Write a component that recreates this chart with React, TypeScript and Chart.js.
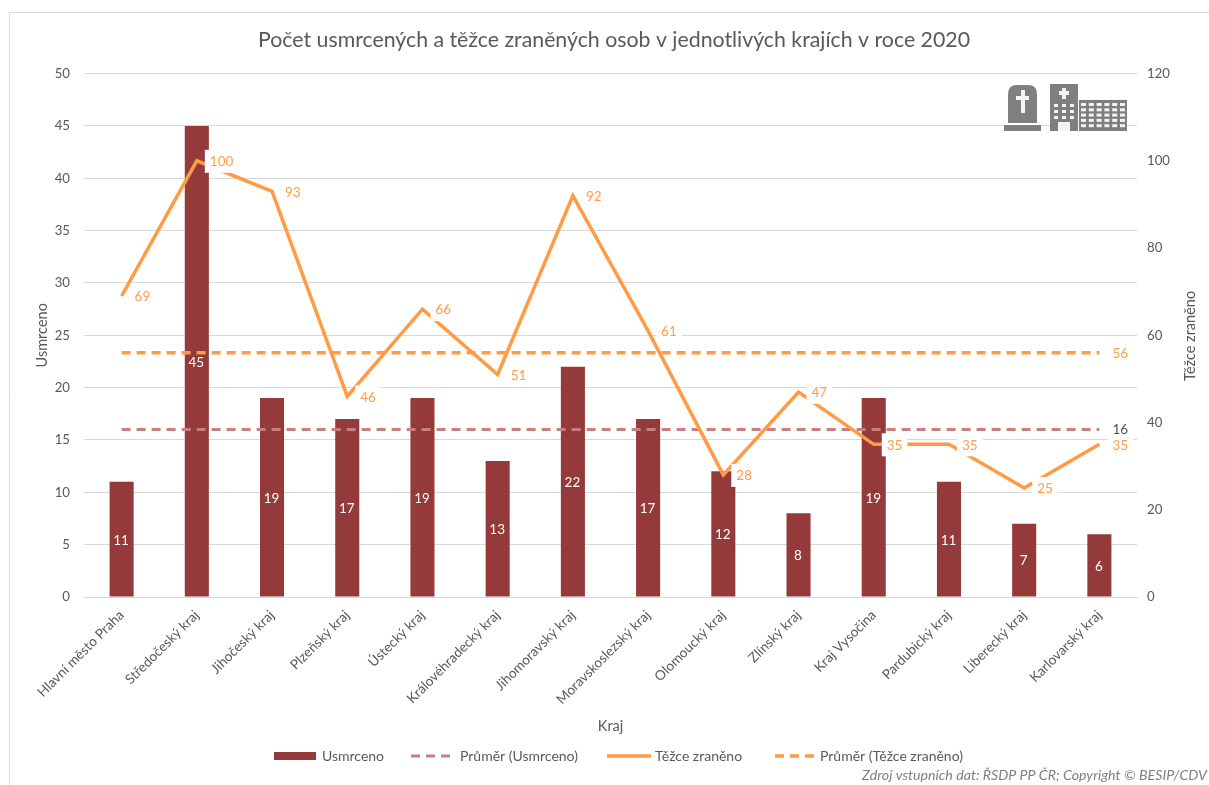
import React, { useEffect, useRef } from "react";
import { Chart, registerables } from "chart.js";

Chart.register(...registerables);

const FONT = "Lato, 'Open Sans', sans-serif";
const TXT = "#595959";

const categories = ["Hlavní město Praha","Středočeský kraj","Jihočeský kraj","Plzeňský kraj","Ústecký kraj","Královéhradecký kraj","Jihomoravský kraj","Moravskoslezský kraj","Olomoucký kraj","Zlínský kraj","Kraj Vysočina","Pardubický kraj","Liberecký kraj","Karlovarský kraj"];
const deaths = [11,45,19,17,19,13,22,17,12,8,19,11,7,6];
const deathsAvg = [16,16,16,16,16,16,16,16,16,16,16,16,16,16];
const injured = [69,100,93,46,66,51,92,61,28,47,35,35,25,35];
const injuredAvg = [56,56,56,56,56,56,56,56,56,56,56,56,56,56];
const leftTicks = [0,5,10,15,20,25,30,35,40,45,50];
const rightTicks = [0,20,40,60,80,100,120];

const TITLE = "Počet usmrcených a těžce zraněných osob v jednotlivých krajích v roce 2020";
const SOURCE = "Zdroj vstupních dat: ŘSDP PP ČR; Copyright © BESIP/CDV";
const RIGHT_TITLE = "Těžce zraněno";

const decor = {
  id: "decor",
  beforeDraw(chart: any) {
    const c = chart.ctx;
    c.save();
    c.fillStyle = "#fff";
    c.fillRect(0, 0, chart.width, chart.height);
    c.strokeStyle = "#d9d9d9";
    c.lineWidth = 1;
    c.beginPath();
    c.moveTo(9.5, 785);
    c.lineTo(9.5, 12.5);
    c.lineTo(1209, 12.5);
    c.stroke();
    c.restore();
  },
  afterDatasetsDraw(chart: any) {
    const c = chart.ctx;
    c.save();
    // data labels
    c.font = `13.5px ${FONT}`;
    c.textBaseline = "middle";
    c.textAlign = "center";
    const bar = chart.getDatasetMeta(0).data;
    bar.forEach((el: any, i: number) => {
      c.fillStyle = "#fff";
      c.fillText(String(deaths[i]), el.x - 0.5, (el.y + el.base) / 2 + 1);
    });
    c.textAlign = "left";
    const labelled = (idx: number, values: number[], only: number | null, color: string, boxH: number, dy: number) => {
      const pts = chart.getDatasetMeta(idx).data;
      pts.forEach((p: any, i: number) => {
        if (only !== null && i !== only) return;
        const t = String(values[i]);
        const w = c.measureText(t).width;
        const x = p.x + 13;
        c.fillStyle = "#fff";
        c.fillRect(x - 5, p.y - 11, w + 10, boxH);
        c.fillStyle = color;
        c.fillText(t, x, p.y + dy);
      });
    };
    labelled(3, injuredAvg, 13, "#ff9d4d", 23, 1);
    labelled(2, injured, null, "#ff9d4d", 23, 1);
    labelled(1, deathsAvg, 13, "#44546a", 14, 0);

    // icons
    c.fillStyle = "#7f7f7f";
    c.beginPath();
    c.moveTo(1008, 123);
    c.lineTo(1008, 94);
    c.quadraticCurveTo(1008, 85, 1017, 85);
    c.lineTo(1028, 85);
    c.quadraticCurveTo(1037, 85, 1037, 94);
    c.lineTo(1037, 123);
    c.closePath();
    c.fill();
    c.fillRect(1004, 125, 37, 6);
    c.fillRect(1050, 84, 28, 47);
    c.fillRect(1079, 100, 48, 31);
    c.fillStyle = "#f4f4f4";
    c.fillRect(1021, 90, 4, 23);
    c.fillRect(1016, 96, 13, 4);
    c.fillRect(1062, 88, 4, 11);
    c.fillRect(1059, 91, 10, 4);
    for (let r = 0; r < 3; r++) for (let k = 0; k < 3; k++) c.fillRect(1054 + k * 8, 104 + r * 6, 4, 3);
    c.fillRect(1058, 122, 12, 9);
    for (let r = 0; r < 5; r++) for (let k = 0; k < 6; k++) c.fillRect(1081 + k * 7.8, 103 + r * 5.3, 5, 3);

    // legend
    c.font = `14px ${FONT}`;
    c.textAlign = "left";
    c.textBaseline = "middle";
    const ly = 756;
    const ds = chart.data.datasets;
    const row = [
      { ds: ds[0], x0: 274, x1: 316, tx: 322 },
      { ds: ds[1], x0: 411, x1: 455, tx: 460 },
      { ds: ds[2], x0: 607, x1: 651, tx: 655 },
      { ds: ds[3], x0: 775, x1: 816, tx: 820 },
    ];
    row.forEach((it) => {
      if (it.ds.type === "bar") {
        c.fillStyle = it.ds.backgroundColor;
        c.fillRect(it.x0, ly - 4, it.x1 - it.x0, 8);
      } else {
        c.strokeStyle = it.ds.borderColor;
        c.lineWidth = it.ds.borderWidth;
        c.setLineDash(it.ds.borderDash || []);
        c.beginPath();
        c.moveTo(it.x0, ly);
        c.lineTo(it.x1, ly);
        c.stroke();
        c.setLineDash([]);
      }
      c.fillStyle = TXT;
      c.fillText(it.ds.label, it.tx, ly);
    });

    // right axis title, reading upwards
    c.save();
    c.translate(1190, 336);
    c.rotate(-Math.PI / 2);
    c.font = `14.5px ${FONT}`;
    c.textAlign = "center";
    c.fillStyle = TXT;
    c.fillText(RIGHT_TITLE, 0, 0);
    c.restore();

    // source note
    c.font = `italic 14.2px ${FONT}`;
    c.fillStyle = "#7f7f7f";
    c.textAlign = "right";
    c.fillText(SOURCE, 1207, 775);
    c.restore();
  },
};

export default function App() {
  const ref = useRef<HTMLCanvasElement>(null);
  useEffect(() => {
    document.body.style.margin = "0";
    document.body.style.background = "#fff";
    const chart = new Chart(ref.current as HTMLCanvasElement, {
      data: {
        labels: categories,
        datasets: [
          { type: "bar", label: "Usmrceno", data: deaths, yAxisID: "y", backgroundColor: "#943a3a", barPercentage: 0.32, categoryPercentage: 1, order: 4 },
          { type: "line", label: "Průměr (Usmrceno)", data: deathsAvg, yAxisID: "y", borderColor: "#c97f7f", borderWidth: 3, borderDash: [9, 6], pointRadius: 0, order: 3 },
          { type: "line", label: "Těžce zraněno", data: injured, yAxisID: "y1", borderColor: "#ff9a45", borderWidth: 3.5, pointRadius: 0, tension: 0, order: 2 },
          { type: "line", label: "Průměr (Těžce zraněno)", data: injuredAvg, yAxisID: "y1", borderColor: "#ff9a45", borderWidth: 3.5, borderDash: [9, 6], pointRadius: 0, order: 1 },
        ],
      } as any,
      options: {
        responsive: false,
        animation: false,
        layout: { padding: { left: 28, right: 9, top: 0, bottom: 50 } },
        plugins: {
          legend: { display: false },
          tooltip: { enabled: false },
          title: { display: true, text: TITLE, color: "#595959", font: { family: FONT, size: 21.3, weight: "normal" }, padding: { top: 27, bottom: 21 } },
        },
        scales: {
          x: {
            grid: { display: false },
            border: { color: "#d9d9d9" },
            ticks: { color: TXT, font: { family: FONT, size: 13.6 }, maxRotation: 45, minRotation: 45, autoSkip: false, padding: 2 },
            title: { display: true, text: "Kraj", color: TXT, font: { family: FONT, size: 14.5 }, padding: { top: 4, bottom: 0 } },
            afterFit(s: any) { s.height = 138; },
          },
          y: {
            position: "left", min: 0, max: 50,
            afterBuildTicks(s: any) { s.ticks = leftTicks.map((value) => ({ value })); },
            grid: { color: "#d9d9d9", drawTicks: false },
            border: { display: false },
            ticks: { color: TXT, font: { family: FONT, size: 13.2 }, padding: 14 },
            title: { display: true, text: "Usmrceno", color: TXT, font: { family: FONT, size: 14.5 }, padding: 6 },
            afterFit(s: any) { s.width = 56; },
          },
          y1: {
            position: "right", min: 0, max: 120,
            afterBuildTicks(s: any) { s.ticks = rightTicks.map((value) => ({ value })); },
            grid: { display: false, drawTicks: false },
            border: { display: false },
            ticks: { color: TXT, font: { family: FONT, size: 13.2 }, padding: 10 },
            afterFit(s: any) { s.width = 63; },
          },
        },
      } as any,
      plugins: [decor],
    });
    return () => chart.destroy();
  }, []);
  return <canvas ref={ref} width={1209} height={785} style={{ display: "block" }} />;
}
